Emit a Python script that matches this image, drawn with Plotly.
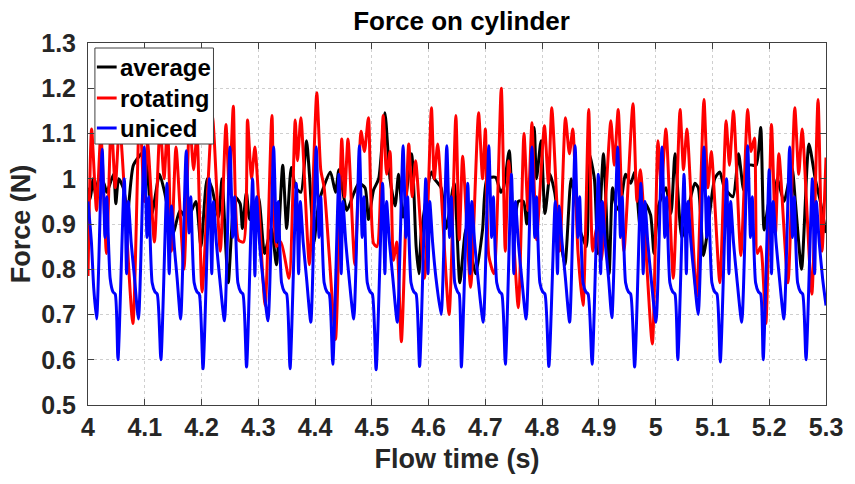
import plotly.graph_objects as go

# ---------------- data ----------------
series_names = ["average", "rotating", "uniced"]
series_colors = ["#000000", "#ff0000", "#0000ff"]

x_tick_vals = [4.0, 4.1, 4.2, 4.3, 4.4, 4.5, 4.6, 4.7, 4.8, 4.9, 5.0, 5.1, 5.2, 5.3]
x_tick_text = ["4", "4.1", "4.2", "4.3", "4.4", "4.5", "4.6", "4.7", "4.8", "4.9", "5", "5.1", "5.2", "5.3"]
y_tick_vals = [0.5, 0.6, 0.7, 0.8, 0.9, 1.0, 1.1, 1.2, 1.3]
y_tick_text = ["0.5", "0.6", "0.7", "0.8", "0.9", "1", "1.1", "1.2", "1.3"]

t_avg = [4.000, 4.004, 4.009, 4.013, 4.019, 4.028, 4.033, 4.045, 4.049, 4.054,
         4.062, 4.070, 4.080, 4.099, 4.112, 4.126, 4.135, 4.150, 4.162, 4.175,
         4.190, 4.199, 4.210, 4.218, 4.230, 4.236, 4.247, 4.259, 4.268, 4.272,
         4.279, 4.285, 4.300, 4.311, 4.323, 4.332, 4.343, 4.350, 4.358, 4.366,
         4.375, 4.385, 4.390, 4.398, 4.407, 4.427, 4.436, 4.442, 4.456, 4.468,
         4.477, 4.488, 4.494, 4.503, 4.512, 4.523, 4.532, 4.541, 4.547, 4.555,
         4.570, 4.578, 4.583, 4.587, 4.605, 4.610, 4.622, 4.631, 4.645, 4.655,
         4.666, 4.683, 4.695, 4.703, 4.718, 4.727, 4.732, 4.742, 4.750, 4.758,
         4.767, 4.773, 4.786, 4.790, 4.798, 4.805, 4.814, 4.822, 4.840, 4.851,
         4.860, 4.866, 4.878, 4.883, 4.892, 4.898, 4.908, 4.918, 4.924, 4.930,
         4.936, 4.947, 4.956, 4.963, 4.973, 4.982, 4.991, 4.997, 5.005, 5.018,
         5.027, 5.034, 5.046, 5.060, 5.069, 5.075, 5.084, 5.092, 5.104, 5.113,
         5.121, 5.136, 5.146, 5.155, 5.165, 5.177, 5.185, 5.191, 5.200, 5.208,
         5.214, 5.226, 5.240, 5.246, 5.257, 5.270, 5.281, 5.290, 5.300]
f_avg = [0.98, 0.955, 1.0, 0.965, 1.0, 0.99, 0.97, 1.01, 0.945, 1.0,
         0.98, 0.93, 1.03, 1.06, 0.92, 1.01, 0.97, 0.88, 0.93, 0.91,
         0.95, 0.85, 1.0, 0.98, 0.915, 1.0, 0.77, 0.96, 0.945, 0.89,
         0.97, 0.91, 0.96, 0.835, 0.89, 0.81, 1.03, 0.89, 1.025, 0.98,
         0.97, 1.084, 1.01, 0.86, 0.95, 1.015, 0.97, 1.02, 0.93, 0.967,
         0.99, 0.98, 0.91, 0.975, 1.0, 1.146, 1.0, 0.94, 1.01, 0.915,
         1.055, 0.85, 0.79, 0.88, 1.015, 1.0, 0.98, 0.89, 0.99, 0.77,
         0.89, 0.79, 0.887, 1.0, 1.003, 0.97, 0.98, 1.062, 0.89, 0.95,
         0.95, 0.90, 1.113, 1.0, 1.084, 0.923, 1.01, 0.97, 0.81, 1.0,
         0.94, 0.89, 0.85, 1.055, 1.0, 0.835, 1.055, 0.79, 0.98, 0.94,
         0.93, 1.01, 0.99, 1.015, 0.89, 0.945, 0.92, 0.835, 0.94, 0.98,
         0.923, 1.055, 0.87, 0.95, 0.99, 0.98, 0.83, 0.89, 1.0, 1.015,
         0.98, 0.96, 1.055, 0.975, 1.03, 1.03, 1.113, 0.887, 0.95, 0.92,
         1.0, 0.95, 1.025, 0.95, 0.80, 1.077, 1.0, 0.95, 0.88]

t_rot = [4.000, 4.0064, 4.015, 4.0226, 4.0325, 4.041, 4.048, 4.0557, 4.079, 4.091,
         4.099, 4.105, 4.117, 4.127, 4.134, 4.140, 4.147, 4.155, 4.169, 4.179,
         4.186, 4.192, 4.201, 4.219, 4.233, 4.243, 4.249, 4.256, 4.265, 4.274,
         4.281, 4.288, 4.294, 4.312, 4.324, 4.332, 4.340, 4.354, 4.365, 4.369,
         4.375, 4.390, 4.403, 4.410, 4.416, 4.425, 4.436, 4.447, 4.452, 4.458,
         4.470, 4.481, 4.487, 4.494, 4.503, 4.509, 4.520, 4.526, 4.532, 4.538,
         4.544, 4.552, 4.565, 4.571, 4.577, 4.593, 4.605, 4.610, 4.616, 4.636,
         4.648, 4.654, 4.660, 4.674, 4.688, 4.695, 4.700, 4.706, 4.715, 4.728,
         4.735, 4.741, 4.758, 4.768, 4.775, 4.782, 4.790, 4.804, 4.811, 4.817,
         4.831, 4.841, 4.848, 4.854, 4.863, 4.872, 4.882, 4.889, 4.896, 4.904,
         4.921, 4.927, 4.934, 4.944, 4.960, 4.967, 4.973, 4.994, 5.004, 5.010,
         5.018, 5.031, 5.043, 5.049, 5.055, 5.072, 5.085, 5.092, 5.098, 5.113,
         5.124, 5.130, 5.137, 5.150, 5.162, 5.168, 5.174, 5.179, 5.185, 5.194,
         5.204, 5.211, 5.217, 5.233, 5.245, 5.252, 5.258, 5.275, 5.286, 5.293,
         5.300]
f_rot = [0.785, 1.11, 0.93, 1.10, 0.835, 1.13, 0.98, 1.12, 0.68, 1.16,
         0.95, 1.08, 0.86, 1.12, 1.00, 1.12, 0.84, 1.07, 0.80, 1.13,
         1.02, 1.10, 0.75, 1.14, 0.84, 1.12, 0.97, 1.16, 0.865, 0.86,
         1.13, 1.00, 1.07, 0.72, 1.14, 0.85, 0.86, 0.78, 1.13, 1.04,
         1.135, 0.81, 1.19, 1.02, 0.98, 0.83, 0.645, 1.088, 0.96, 1.088,
         0.81, 1.105, 1.06, 1.135, 0.857, 0.85, 1.14, 1.01, 1.06, 0.82,
         0.86, 0.64, 1.077, 0.96, 1.04, 0.78, 1.157, 1.00, 1.077, 0.70,
         1.14, 0.865, 1.05, 0.76, 1.146, 1.00, 1.11, 0.83, 0.79, 1.20,
         0.84, 1.04, 0.715, 1.10, 0.93, 1.124, 0.865, 1.117, 0.99, 1.157,
         0.84, 1.135, 1.055, 1.11, 0.84, 0.72, 1.153, 0.84, 0.89, 0.82,
         1.128, 1.03, 1.153, 0.84, 1.166, 0.95, 1.02, 0.635, 1.084, 0.98,
         1.11, 0.78, 1.153, 1.02, 1.11, 0.74, 1.175, 0.98, 1.06, 0.77,
         1.128, 1.03, 1.15, 0.83, 1.153, 1.06, 1.09, 0.835, 0.85, 0.68,
         1.12, 0.88, 1.055, 0.77, 1.157, 1.01, 1.11, 0.745, 1.175, 0.84,
         1.047]

t_unc = [4.000, 4.006, 4.010,
         4.0152, 4.025, 4.030, 4.033, 4.039, 4.044, 4.048,
         4.0528, 4.064, 4.068, 4.071, 4.076, 4.082,
         4.0889, 4.099, 4.104, 4.107, 4.113, 4.118, 4.122,
         4.1284, 4.139, 4.143, 4.147, 4.152, 4.157,
         4.1632, 4.173, 4.178, 4.181, 4.187, 4.192, 4.196,
         4.2026, 4.214, 4.218, 4.221, 4.226, 4.232,
         4.2404, 4.250, 4.255, 4.258, 4.264, 4.269, 4.273,
         4.2793, 4.290, 4.294, 4.297, 4.302, 4.308,
         4.3171, 4.327, 4.332, 4.335, 4.341, 4.346, 4.350,
         4.3559, 4.367, 4.371, 4.374, 4.379, 4.385,
         4.3925, 4.402, 4.407, 4.410, 4.416, 4.421, 4.425,
         4.4312, 4.442, 4.446, 4.449, 4.454, 4.460,
         4.4681, 4.478, 4.483, 4.486, 4.492, 4.497, 4.501,
         4.5075, 4.519, 4.523, 4.526, 4.531, 4.537,
         4.5448, 4.555, 4.560, 4.563, 4.569, 4.574, 4.578,
         4.5841, 4.595, 4.599, 4.602, 4.607, 4.613,
         4.622, 4.632, 4.637, 4.640, 4.646, 4.651, 4.654,
         4.6577, 4.669, 4.673, 4.676, 4.681, 4.687,
         4.6963, 4.706, 4.711, 4.714, 4.720, 4.725, 4.729,
         4.7352, 4.746, 4.750, 4.753, 4.758, 4.764,
         4.7718, 4.782, 4.787, 4.790, 4.796, 4.801, 4.805,
         4.8118, 4.823, 4.827, 4.830, 4.835, 4.841,
         4.8484, 4.858, 4.863, 4.866, 4.872, 4.877, 4.881,
         4.888, 4.899, 4.903, 4.906, 4.911, 4.917,
         4.9228, 4.933, 4.938, 4.941, 4.947, 4.952, 4.956,
         4.9629, 4.974, 4.978, 4.981, 4.986, 4.992,
         5.0005, 5.011, 5.016, 5.019, 5.025, 5.030, 5.034,
         5.0389, 5.050, 5.054, 5.057, 5.062, 5.068,
         5.0749, 5.085, 5.090, 5.093, 5.099, 5.104, 5.108,
         5.1138, 5.125, 5.129, 5.132, 5.137, 5.143,
         5.1516, 5.162, 5.167, 5.170, 5.176, 5.181, 5.185,
         5.1894, 5.200, 5.204, 5.207, 5.212, 5.218,
         5.2259, 5.236, 5.241, 5.244, 5.250, 5.255, 5.259,
         5.2648, 5.276, 5.280, 5.283, 5.288, 5.294,
         5.300]
f_unc = [0.95, 0.86, 0.76,
         0.69, 1.065, 0.87, 0.96, 0.78, 0.75, 0.745,
         0.60, 1.00, 0.79, 0.95, 0.86, 0.78,
         0.69, 1.07, 0.87, 0.96, 0.77, 0.75, 0.745,
         0.60, 0.99, 0.79, 0.94, 0.85, 0.78,
         0.69, 1.062, 0.88, 0.96, 0.77, 0.75, 0.745,
         0.58, 1.00, 0.79, 0.95, 0.86, 0.78,
         0.686, 1.07, 0.87, 0.96, 0.77, 0.75, 0.745,
         0.584, 1.00, 0.785, 0.96, 0.86, 0.78,
         0.686, 1.07, 0.86, 0.95, 0.77, 0.75, 0.745,
         0.58, 0.99, 0.79, 0.95, 0.86, 0.78,
         0.683, 1.07, 0.87, 0.96, 0.77, 0.75, 0.745,
         0.59, 1.01, 0.79, 0.95, 0.86, 0.78,
         0.69, 1.073, 0.87, 0.96, 0.77, 0.75, 0.745,
         0.578, 0.99, 0.79, 0.95, 0.86, 0.78,
         0.683, 1.073, 0.87, 0.96, 0.77, 0.75, 0.745,
         0.585, 1.00, 0.79, 0.95, 0.86, 0.78,
         0.70, 1.073, 0.87, 0.96, 0.77, 0.75, 0.745,
         0.584, 0.99, 0.79, 0.95, 0.86, 0.78,
         0.683, 1.073, 0.87, 0.96, 0.77, 0.75, 0.745,
         0.59, 1.01, 0.79, 0.95, 0.86, 0.78,
         0.69, 1.07, 0.87, 0.96, 0.77, 0.75, 0.745,
         0.585, 0.95, 0.79, 0.94, 0.86, 0.78,
         0.683, 1.073, 0.87, 0.96, 0.77, 0.75, 0.745,
         0.59, 1.01, 0.79, 0.95, 0.86, 0.78,
         0.693, 1.07, 0.87, 0.96, 0.77, 0.75, 0.745,
         0.584, 0.99, 0.79, 0.95, 0.86, 0.78,
         0.683, 1.07, 0.87, 0.96, 0.77, 0.75, 0.745,
         0.60, 1.01, 0.79, 0.95, 0.86, 0.78,
         0.70, 1.07, 0.87, 0.96, 0.77, 0.75, 0.745,
         0.595, 1.00, 0.79, 0.95, 0.86, 0.78,
         0.683, 1.073, 0.87, 0.96, 0.77, 0.75, 0.745,
         0.60, 1.02, 0.79, 0.95, 0.86, 0.78,
         0.69, 1.07, 0.87, 0.96, 0.77, 0.75, 0.745,
         0.60, 1.00, 0.79, 0.95, 0.86, 0.78,
         0.72]

series_t = [t_avg, t_rot, t_unc]
series_f = [f_avg, f_rot, f_unc]
for tt, ff, nm in zip(series_t, series_f, series_names):
    if len(tt) != len(ff):
        raise ValueError(f"length mismatch in {nm}: {len(tt)} vs {len(ff)}")

# ---------------- figure ----------------
W, H = 855, 484
ML, MR, MT, MB = 88, 20, 43, 79
PW, PH = W - ML - MR, H - MT - MB
FONT = "Liberation Sans, Arial, Helvetica, sans-serif"
AX = "#262626"

fig = go.Figure()
for tt, ff, nm, col in zip(series_t, series_f, series_names, series_colors):
    fig.add_trace(go.Scatter(x=tt, y=ff, mode="lines", name=nm,
                             line=dict(color=col, width=3, shape="spline", smoothing=0.6),
                             showlegend=False))

axis_common = dict(showline=True, linecolor="#404040", linewidth=1, mirror="ticks",
                   ticks="inside", ticklen=6, tickcolor="#404040",
                   showgrid=True, gridcolor="#cfcfcf", griddash="dot", gridwidth=1,
                   zeroline=False,
                   tickfont=dict(family=FONT, size=25, color=AX, weight="bold"))

fig.update_layout(
    width=W, height=H,
    margin=dict(l=ML, r=MR, t=MT, b=MB, pad=0),
    paper_bgcolor="white", plot_bgcolor="white",
    font=dict(family=FONT, color=AX, weight="bold"),
    title=dict(text="Force on cylinder", x=(ML + PW / 2) / W, xanchor="center",
               y=1 - 21 / H, yanchor="middle", yref="container",
               font=dict(family=FONT, size=26, color="#000000", weight="bold")),
    xaxis=dict(range=[4.0, 5.3], tickvals=x_tick_vals, ticktext=x_tick_text,
               title=dict(text="Flow time (s)", standoff=9,
                          font=dict(family=FONT, size=27, color=AX, weight="bold")),
               **axis_common),
    yaxis=dict(range=[0.5, 1.3], tickvals=y_tick_vals, ticktext=y_tick_text,
               ticklabelstandoff=6,
               title=dict(text="Force (N)", standoff=2,
                          font=dict(family=FONT, size=27, color=AX, weight="bold")),
               **axis_common),
    showlegend=False,
)

# ---------------- legend box (drawn like the reference) ----------------
def px_x(p):
    return (p - ML) / PW

def px_y(p):
    return (MT + PH - p) / PH

fig.add_shape(type="rect", xref="paper", yref="paper",
              x0=px_x(95), x1=px_x(215), y0=px_y(144), y1=px_y(48),
              line=dict(color="#404040", width=1), fillcolor="white", layer="above")
row_y = [67, 98, 128]
for nm, col, ry in zip(series_names, series_colors, row_y):
    fig.add_shape(type="line", xref="paper", yref="paper",
                  x0=px_x(97), x1=px_x(117), y0=px_y(ry), y1=px_y(ry),
                  line=dict(color=col, width=3), layer="above")
    fig.add_annotation(xref="paper", yref="paper", x=px_x(118), y=px_y(ry),
                       xanchor="left", yanchor="middle", showarrow=False,
                       text=nm, font=dict(family=FONT, size=24, color="#000000", weight="bold"))

fig.write_html("out.html")
